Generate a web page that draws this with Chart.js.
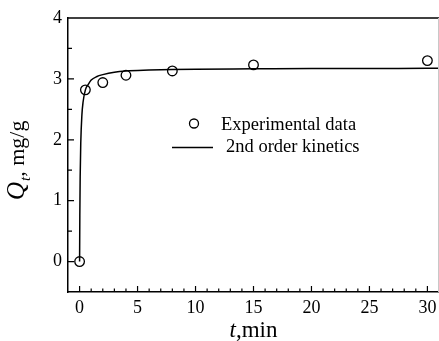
<!DOCTYPE html>
<html lang="en">
<head>
  <meta charset="UTF-8" />
  <title>Qt kinetics</title>
  <script src="https://cdn.jsdelivr.net/npm/chart.js"></script>
  <style>
    * { margin: 0; padding: 0; box-sizing: border-box; }
    html, body { background: #fff; overflow: hidden; width: 439px; height: 341px; }
    .wrap { width: 439px; height: 341px; position: relative; }
    canvas { display: block; }
  </style>
</head>
<body>
  <div class="wrap"><canvas id="kinChart"></canvas></div>

  <script>
    const xTicks = [0, 5, 10, 15, 20, 25, 30];
    const yTicks = [0, 1, 2, 3, 4];

    // experimental points (t, min / Qt, mg/g)
    const expT = [0, 0.5, 2, 4, 8, 15, 30];
    const expQ = [0, 2.82, 2.94, 3.06, 3.13, 3.23, 3.30];

    // fitted 2nd order curve
    const fitT = [0, 0.02, 0.05, 0.1, 0.2, 0.3, 0.5, 0.75, 1, 1.5, 2, 3, 4, 6, 8, 10, 15, 20, 25, 30, 31];
    const fitQ = [0, 0.75, 1.40, 1.94, 2.41, 2.62, 2.82, 2.91, 2.98, 3.04, 3.07, 3.11, 3.13, 3.145, 3.155, 3.16, 3.165, 3.17, 3.17, 3.175, 3.175];

    const serif = "'Liberation Serif', 'Times New Roman', serif";

    const decor = {
      id: 'decor',
      afterDraw(chart) {
        const ctx = chart.ctx;
        const a = chart.chartArea;
        const xs = chart.scales.x, ys = chart.scales.y;
        ctx.save();
        ctx.strokeStyle = '#000';
        ctx.lineWidth = 1.5;
        // top frame
        ctx.beginPath();
        ctx.moveTo(a.left, a.top);
        ctx.lineTo(a.right, a.top);
        ctx.stroke();
        // right frame (faint)
        ctx.strokeStyle = '#c8c8c8';
        ctx.lineWidth = 1;
        ctx.beginPath();
        ctx.moveTo(a.right - 0.5, a.top);
        ctx.lineTo(a.right - 0.5, a.bottom);
        ctx.stroke();

        // inward ticks
        ctx.strokeStyle = '#000';
        ctx.lineWidth = 1.2;
        ctx.beginPath();
        for (let v = 0; v <= 30; v++) {
          const px = xs.getPixelForValue(v);
          const len = v % 5 === 0 ? 6 : 3.5;
          ctx.moveTo(px, a.bottom);
          ctx.lineTo(px, a.bottom - len);
        }
        for (let v = 0; v <= 3.5; v += 0.5) {
          const py = ys.getPixelForValue(v);
          const len = v % 1 === 0 ? 6 : 4;
          ctx.moveTo(a.left, py);
          ctx.lineTo(a.left + len, py);
        }
        ctx.stroke();

        // legend
        ctx.fillStyle = '#000';
        ctx.font = '18.5px ' + serif;
        ctx.textBaseline = 'alphabetic';
        ctx.textAlign = 'left';
        ctx.lineWidth = 1.3;
        ctx.beginPath();
        ctx.arc(194, 123.5, 4.5, 0, Math.PI * 2);
        ctx.stroke();
        ctx.fillText('Experimental data', 221, 130);
        ctx.lineWidth = 1.5;
        ctx.beginPath();
        ctx.moveTo(172, 147.5);
        ctx.lineTo(213, 147.5);
        ctx.stroke();
        ctx.fillText('2nd order kinetics', 226, 152);

        // x title
        ctx.font = 'italic 23px ' + serif;
        const w1 = ctx.measureText('t').width;
        ctx.font = '23px ' + serif;
        const w2 = ctx.measureText(',min').width;
        let x0 = (a.left + a.right) / 2 - (w1 + w2) / 2;
        ctx.font = 'italic 23px ' + serif;
        ctx.fillText('t', x0, 337);
        ctx.font = '23px ' + serif;
        ctx.fillText(',min', x0 + w1, 337);

        // y title
        ctx.translate(24, 200);
        ctx.rotate(-Math.PI / 2);
        ctx.font = 'italic 25px ' + serif;
        ctx.fillText('Q', 0, 0);
        let u = ctx.measureText('Q').width;
        ctx.font = 'italic 15px ' + serif;
        ctx.fillText('t', u + 1, 6);
        u += 1 + ctx.measureText('t').width;
        ctx.font = '22px ' + serif;
        ctx.fillText(', mg/g', u, 0);
        ctx.restore();
      }
    };

    new Chart(document.getElementById('kinChart'), {
      type: 'scatter',
      data: {
        datasets: [
          {
            label: 'Experimental data',
            data: expT.map((t, i) => ({ x: t, y: expQ[i] })),
            pointStyle: 'circle',
            pointRadius: 4.8,
            pointBorderWidth: 1.3,
            pointBorderColor: '#000',
            pointBackgroundColor: 'rgba(0,0,0,0)',
            showLine: false,
            order: 1
          },
          {
            label: '2nd order kinetics',
            data: fitT.map((t, i) => ({ x: t, y: fitQ[i] })),
            showLine: true,
            borderColor: '#000',
            borderWidth: 1.5,
            pointRadius: 0,
            cubicInterpolationMode: 'monotone',
            order: 2
          }
        ]
      },
      options: {
        responsive: true,
        maintainAspectRatio: false,
        animation: false,
        layout: { autoPadding: false, padding: { top: 18, right: 0, left: 0, bottom: 0 } },
        plugins: { legend: { display: false }, tooltip: { enabled: false } },
        scales: {
          x: {
            type: 'linear',
            min: -1,
            max: 31,
            afterBuildTicks: s => { s.ticks = xTicks.map(v => ({ value: v })); },
            afterFit: s => { s.height = 49; s.paddingLeft = 0; s.paddingRight = 0; },
            grid: { display: false, drawTicks: false },
            border: { display: true, color: '#000', width: 1.5 },
            ticks: { color: '#000', padding: 5, maxRotation: 0, font: { family: serif, size: 18 } }
          },
          y: {
            type: 'linear',
            min: -0.5,
            max: 4,
            afterBuildTicks: s => { s.ticks = yTicks.map(v => ({ value: v })); },
            afterFit: s => { s.width = 68; s.paddingTop = 0; s.paddingBottom = 0; },
            grid: { display: false, drawTicks: false },
            border: { display: true, color: '#000', width: 1.5 },
            ticks: { color: '#000', padding: 6, font: { family: serif, size: 18 } }
          }
        }
      },
      plugins: [decor]
    });
  </script>
</body>
</html>
